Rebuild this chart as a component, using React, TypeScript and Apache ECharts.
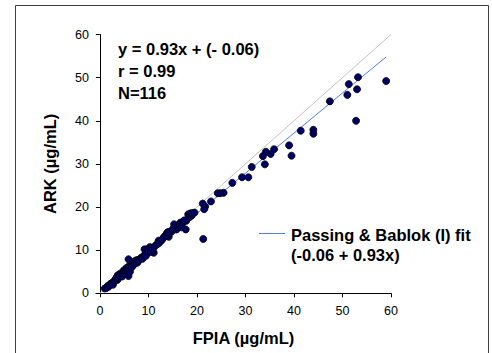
import React, { useEffect, useRef } from "react";
import * as echarts from "echarts";

const xTicks = [0, 10, 20, 30, 40, 50, 60];
const yTicks = [0, 10, 20, 30, 40, 50, 60];

const fpia = [
  59.0, 53.2, 51.3, 53.0, 51.0, 47.4, 52.8, 41.4, 44.0, 44.0,
  39.0, 39.5, 35.9, 35.2, 34.2, 33.6, 34.0, 31.3, 30.6, 29.3,
  27.3, 25.5, 24.8, 24.3, 22.9, 21.7, 21.5, 21.2, 21.3, 19.5,
  18.6, 18.2, 18.4, 17.8, 17.7, 17.2, 16.6, 16.2, 15.3, 15.8,
  14.5, 13.8, 14.2, 13.2, 12.8, 12.1, 11.8, 11.1, 10.8, 10.3,
  9.7, 9.2, 9.7, 9.0, 8.4, 7.7, 7.0, 5.9, 6.6, 5.9,
  5.4, 4.9, 5.9, 4.2, 3.7, 3.6, 2.9, 2.2, 1.6, 1.0,
  1.3, 1.8, 2.0, 2.5, 2.7, 3.0, 3.3, 3.5, 3.9, 4.0,
  4.4, 4.6, 4.8, 5.1, 5.3, 5.6, 6.0, 6.2, 6.3, 6.8,
  7.2, 7.4, 7.9, 8.1, 8.6, 8.8, 9.3, 9.5, 10.0, 10.5,
  10.9, 11.4, 12.4, 12.9, 13.5, 14.0, 14.8, 15.1, 16.0, 16.5,
  17.0, 17.4, 18.9, 19.0, 16.8, 12.0, 6.5, 7.7,
];
const ark = [
  49.2, 50.1, 48.5, 47.3, 46.0, 44.5, 40.0, 37.7, 37.9, 37.0,
  34.3, 31.9, 33.4, 32.3, 32.8, 31.8, 29.9, 29.3, 26.9, 26.9,
  25.6, 23.3, 23.2, 23.2, 21.3, 20.1, 19.5, 20.8, 12.6, 18.7,
  18.5, 18.3, 17.6, 16.8, 14.8, 16.6, 16.4, 15.6, 16.0, 14.8,
  14.3, 13.9, 13.1, 13.0, 12.4, 12.2, 11.4, 9.4, 10.4, 10.7,
  10.2, 10.2, 9.3, 8.6, 8.1, 7.7, 7.3, 7.9, 6.6, 6.2,
  5.8, 5.3, 4.0, 4.6, 4.2, 3.1, 2.7, 2.2, 1.7, 1.1,
  1.2, 1.5, 1.9, 2.4, 2.0, 2.9, 3.4, 3.8, 3.6, 4.1,
  4.3, 3.9, 4.7, 4.5, 5.2, 5.5, 5.6, 5.0, 6.1, 6.4,
  6.9, 7.6, 7.4, 7.8, 8.3, 8.0, 9.0, 8.7, 9.8, 9.6,
  10.1, 11.0, 11.9, 12.6, 13.4, 14.2, 14.3, 15.0, 15.2, 15.9,
  16.2, 16.9, 18.0, 18.6, 15.3, 11.5, 6.0, 7.1,
];

const identityX = [0, 60];
const identityY = [0, 60];
const fitX = [1.0, 59.0];
const fitY = [0.87, 54.81];

const annotationLines = ["y = 0.93x + (- 0.06)", "r = 0.99", "N=116"];
const legendLines = ["Passing & Bablok (I) fit", "(-0.06 + 0.93x)"];

const FONT = "'Liberation Sans', Arial, sans-serif";

export default function App() {
  const ref = useRef<HTMLDivElement>(null);
  useEffect(() => {
    if (!ref.current) return;
    const chart = echarts.init(ref.current, undefined, { renderer: "svg" });
    const points = fpia.map((x, i) => [x, ark[i]]);
    chart.setOption({
      animation: false,
      backgroundColor: "#ffffff",
      textStyle: { fontFamily: FONT },
      grid: { left: 96, top: 34.5, width: 295, height: 258.8 },
      xAxis: {
        type: "value",
        min: -0.8,
        max: 60,
        name: "FPIA (µg/mL)",
        nameLocation: "middle",
        nameGap: 36,
        nameTextStyle: { fontSize: 16.5, fontWeight: "bold", color: "#000", fontFamily: FONT },
        axisLine: { show: true, lineStyle: { color: "#000", width: 1 } },
        axisTick: { show: true, length: 4, customValues: xTicks, lineStyle: { color: "#000" } },
        axisLabel: { customValues: xTicks, fontSize: 12.5, color: "#000", margin: 11, fontFamily: FONT },
        splitLine: { show: false },
      },
      yAxis: {
        type: "value",
        min: 0,
        max: 60,
        interval: 10,
        name: "ARK (µg/mL)",
        nameLocation: "middle",
        nameGap: 38,
        nameTextStyle: { fontSize: 16.5, fontWeight: "bold", color: "#000", fontFamily: FONT },
        axisLine: { show: true, lineStyle: { color: "#000", width: 1 } },
        axisTick: { show: true, length: 4, customValues: yTicks, lineStyle: { color: "#000" } },
        axisLabel: { customValues: yTicks, fontSize: 12.5, color: "#000", margin: 7, fontFamily: FONT },
        splitLine: { show: false },
      },
      series: [
        {
          type: "line",
          data: identityX.map((x, i) => [x, identityY[i]]),
          symbol: "none",
          lineStyle: { color: "#c4c4c4", width: 1 },
          z: 1,
        },
        {
          type: "line",
          name: legendLines[0],
          data: fitX.map((x, i) => [x, fitY[i]]),
          symbol: "none",
          lineStyle: { color: "#4d7dff", width: 1 },
          z: 2,
        },
        {
          type: "scatter",
          data: points,
          symbol: "circle",
          symbolSize: 7,
          itemStyle: { color: "#000066", borderColor: "#000000", borderWidth: 0.8, opacity: 1 },
          z: 3,
        },
      ],
      graphic: [
        {
          type: "rect",
          shape: { x: 15.5, y: 5.5, width: 473, height: 370 },
          style: { fill: "none", stroke: "#404040", lineWidth: 1 },
          silent: true,
        },
        ...annotationLines.map((t, i) => ({
          type: "text",
          x: 118,
          y: 49 + i * 22,
          style: {
            text: t,
            fontSize: 16.5,
            fontWeight: "bold",
            fontFamily: FONT,
            fill: "#000",
            verticalAlign: "middle",
            align: "left",
          },
        })),
        {
          type: "line",
          shape: { x1: 259, y1: 233.5, x2: 285, y2: 233.5 },
          style: { stroke: "#4d7dff", lineWidth: 1 },
        },
        ...legendLines.map((t, i) => ({
          type: "text",
          x: 291,
          y: 235 + i * 20,
          style: {
            text: t,
            fontSize: 16.5,
            fontWeight: "bold",
            fontFamily: FONT,
            fill: "#000",
            verticalAlign: "middle",
            align: "left",
          },
        })),
      ],
    });
    return () => chart.dispose();
  }, []);
  return (
    <div
      ref={ref}
      style={{ position: "fixed", left: 0, top: 0, width: 492, height: 353 }}
    />
  );
}
